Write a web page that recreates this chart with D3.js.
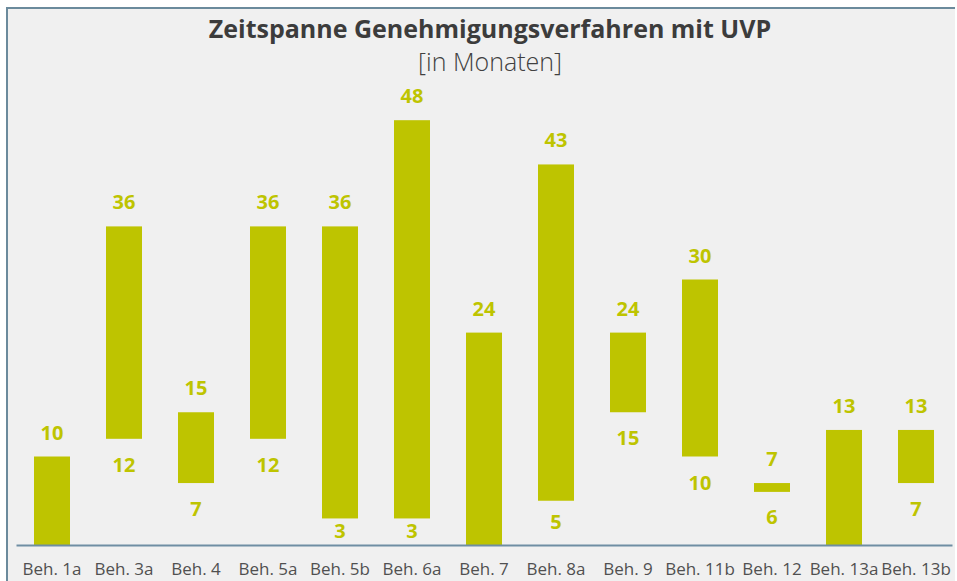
<!DOCTYPE html>
<html>
<head>
<meta charset="utf-8">
<script src="https://cdn.jsdelivr.net/npm/d3@7"></script>
<style>
  html, body { margin: 0; padding: 0; background: #fff; }
  svg { display: block; }
  text { font-family: "Open Sans", sans-serif; }
</style>
</head>
<body>
<div class="chart"></div>
<script>
const categories = ['Beh. 1a', 'Beh. 3a', 'Beh. 4', 'Beh. 5a', 'Beh. 5b', 'Beh. 6a', 'Beh. 7',
  'Beh. 8a', 'Beh. 9', 'Beh. 11b', 'Beh. 12', 'Beh. 13a', 'Beh. 13b'];
const minMonths = [0, 12, 7, 12, 3, 3, 0, 5, 15, 10, 6, 0, 7];
const maxMonths = [10, 36, 15, 36, 36, 48, 24, 43, 24, 30, 7, 13, 13];

const W = 957, H = 581;
const green = '#bec400';
const baseY = 545;

const data = categories.map((c, i) => ({cat: c, lo: minMonths[i], hi: maxMonths[i]}));

const svg = d3.select('.chart').append('svg')
    .attr('width', W)
    .attr('height', H);

// panel
svg.append('rect')
    .attr('x', 7).attr('y', 7)
    .attr('width', 948).attr('height', H)
    .attr('fill', '#f0f0f0');
svg.append('line')
    .attr('x1', 7).attr('x2', 955).attr('y1', 8).attr('y2', 8)
    .attr('stroke', '#6b8a9c').attr('stroke-width', 2);
svg.append('line')
    .attr('x1', 7).attr('x2', 7).attr('y1', 7).attr('y2', H)
    .attr('stroke', '#6b8a9c').attr('stroke-width', 2);

svg.append('text')
    .attr('x', 490).attr('y', 38)
    .attr('text-anchor', 'middle')
    .attr('font-size', 25)
    .attr('font-weight', 700)
    .attr('fill', '#3c3c3c')
    .text('Zeitspanne Genehmigungsverfahren mit UVP');
svg.append('text')
    .attr('x', 490).attr('y', 71)
    .attr('text-anchor', 'middle')
    .attr('font-size', 25)
    .attr('font-weight', 300)
    .attr('fill', '#404040')
    .text('[in Monaten]');

const x = d3.scaleBand()
    .domain(categories)
    .range([16, 952])
    .paddingInner(0.5)
    .paddingOuter(0.25);

const y = d3.scaleLinear()
    .domain([0, 48])
    .range([baseY, baseY - 48 * 8.85]);

svg.append('g')
    .selectAll('rect')
    .data(data)
    .join('rect')
      .attr('x', d => x(d.cat))
      .attr('width', x.bandwidth())
      .attr('y', d => y(d.hi))
      .attr('height', d => y(d.lo) - y(d.hi))
      .attr('fill', green);

const axis = svg.append('g')
    .attr('transform', `translate(0,${baseY})`)
    .call(d3.axisBottom(x).tickSize(0).tickPadding(18));
axis.select('.domain')
    .attr('stroke', '#6f8ea3')
    .attr('stroke-width', 2);
axis.selectAll('text')
    .attr('font-family', '"Open Sans", sans-serif')
    .attr('font-size', 17)
    .attr('fill', '#505050');

const labels = svg.append('g')
    .attr('font-size', 20)
    .attr('font-weight', 700)
    .attr('fill', green)
    .attr('text-anchor', 'middle');

labels.selectAll('.hi')
    .data(data)
    .join('text')
      .attr('class', 'hi')
      .attr('x', d => x(d.cat) + x.bandwidth() / 2)
      .attr('y', d => y(d.hi) - 17)
      .text(d => d.hi);

// lower label sits below the bar, but never lower than the middle of the gap to the axis
labels.selectAll('.lo')
    .data(data.filter(d => d.lo > 0))
    .join('text')
      .attr('class', 'lo')
      .attr('x', d => x(d.cat) + x.bandwidth() / 2)
      .attr('y', d => Math.min(y(d.lo) + 33, (y(d.lo) + baseY) / 2 + 6))
      .text(d => d.lo);
</script>
</body>
</html>
